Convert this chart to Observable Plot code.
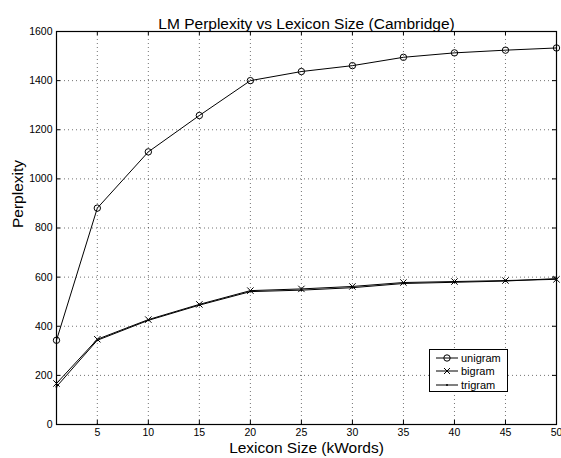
<!DOCTYPE html>
<html>
<head>
<meta charset="utf-8">
<script src="https://cdn.jsdelivr.net/npm/d3@7"></script>
<script src="https://cdn.jsdelivr.net/npm/@observablehq/plot@0.6"></script>
<style>
  html, body { margin: 0; padding: 0; background: #fff; }
  #wrap { position: relative; width: 561px; height: 458px; font-family: "Liberation Sans", Arial, sans-serif; }
  #legend { position: absolute; left: 429px; top: 349px; width: 77px; height: 41px; border: 1px solid #000; background: #fff; }
  #legend .row { position: absolute; left: 0; height: 14px; width: 77px; }
  #legend svg { position: absolute; left: 4px; top: 0; }
  #legend span { position: absolute; left: 31px; top: 0; font-size: 11px; line-height: 14px; color: #000; }
</style>
</head>
<body>
<div id="wrap"></div>
<script>
const title = "LM Perplexity vs Lexicon Size (Cambridge)";
const xLabel = "Lexicon Size (kWords)";
const yLabel = "Perplexity";
const seriesNames = ["unigram", "bigram", "trigram"];
const lexiconSize = [1, 5, 10, 15, 20, 25, 30, 35, 40, 45, 50];
const unigram = [343, 881, 1110, 1258, 1400, 1437, 1461, 1495, 1513, 1524, 1533];
const bigram  = [167, 347, 427, 489, 545, 552, 562, 578, 582, 586, 591];
const trigram = [154, 343, 424, 486, 541, 547, 557, 574, 579, 584, 594];
const xTicks = [5, 10, 15, 20, 25, 30, 35, 40, 45, 50];
const yTicks = [0, 200, 400, 600, 800, 1000, 1200, 1400, 1600];

const W = 561, H = 458;
const mT = 31, mB = 34, mL = 56, mR = 5;
const innerH = H - mT - mB, innerW = W - mL - mR;
const tickLen = 4;

const rows = (vals, name) => lexiconSize.map((x, i) => ({x, y: vals[i], series: name}));
const uni = rows(unigram, "unigram");
const bi = rows(bigram, "bigram");
const tri = rows(trigram, "trigram");

const xGrid = xTicks.filter(d => d > 1 && d < 50);
const yGrid = yTicks.filter(d => d > 0 && d < 1600);

const font = "Liberation Sans, Arial, sans-serif";

const chart = Plot.plot({
  width: W, height: H,
  marginTop: mT, marginBottom: mB, marginLeft: mL, marginRight: mR,
  style: {fontFamily: font, background: "#fff", color: "#000"},
  x: {domain: [1, 50]},
  y: {domain: [0, 1600]},
  marks: [
    Plot.ruleX(xGrid, {x: d => d, stroke: "#000", strokeOpacity: 0.55, strokeDasharray: "1,3"}),
    Plot.ruleY(yGrid, {y: d => d, stroke: "#000", strokeOpacity: 0.55, strokeDasharray: "1,3"}),
    // inward ticks (MATLAB style)
    Plot.ruleX(xGrid, {x: d => d, insetTop: innerH - tickLen, stroke: "#000"}),
    Plot.ruleX(xGrid, {x: d => d, insetBottom: innerH - tickLen, stroke: "#000"}),
    Plot.ruleY(yGrid, {y: d => d, insetRight: innerW - tickLen, stroke: "#000"}),
    Plot.ruleY(yGrid, {y: d => d, insetLeft: innerW - tickLen, stroke: "#000"}),
    Plot.axisX({ticks: xTicks, tickSize: 0, tickPadding: 4, fontSize: 10.5, tickFormat: d3.format("d"), label: null}),
    Plot.axisY({ticks: yTicks, tickSize: 0, tickPadding: 4, fontSize: 10.5, tickFormat: d3.format("d"), label: null}),
    Plot.line(tri, {x: "x", y: "y", stroke: "#000", strokeWidth: 1}),
    Plot.line(bi, {x: "x", y: "y", stroke: "#000", strokeWidth: 1}),
    Plot.line(uni, {x: "x", y: "y", stroke: "#000", strokeWidth: 1}),
    Plot.dot(uni, {x: "x", y: "y", r: 3.2, symbol: "circle", stroke: "#000", fill: "none", strokeWidth: 1}),
    Plot.dot(bi, {x: "x", y: "y", r: 3, symbol: "times", stroke: "#000", strokeWidth: 1}),
    Plot.dot(tri, {x: "x", y: "y", r: 1, symbol: "circle", fill: "#000"}),
    Plot.frame({stroke: "#000", strokeWidth: 1.2}),
    Plot.text([title], {text: d => d, frameAnchor: "top", dy: -14, fontSize: 15.5, fill: "#000"}),
    Plot.text([xLabel], {text: d => d, frameAnchor: "bottom", dy: 28, fontSize: 15.5, fill: "#000"}),
    Plot.text([yLabel], {text: d => d, frameAnchor: "left", dx: -38, rotate: -90, fontSize: 15.5, fill: "#000"})
  ]
});

const wrap = document.getElementById("wrap");
wrap.appendChild(chart);

// legend
const legend = document.createElement("div");
legend.id = "legend";
const rowTops = [1, 14, 28];
const markers = {
  unigram: '<circle cx="13" cy="7" r="3.2" fill="none" stroke="#000"/>',
  bigram: '<path d="M10,4L16,10M16,4L10,10" stroke="#000"/>',
  trigram: '<circle cx="13" cy="7" r="1" fill="#000"/>'
};
seriesNames.forEach((name, i) => {
  const row = document.createElement("div");
  row.className = "row";
  row.style.top = rowTops[i] + "px";
  row.innerHTML = `<svg width="24" height="14"><line x1="2" y1="7" x2="24" y2="7" stroke="#000"/>${markers[name]}</svg><span>${name}</span>`;
  legend.appendChild(row);
});
wrap.appendChild(legend);
</script>
</body>
</html>
